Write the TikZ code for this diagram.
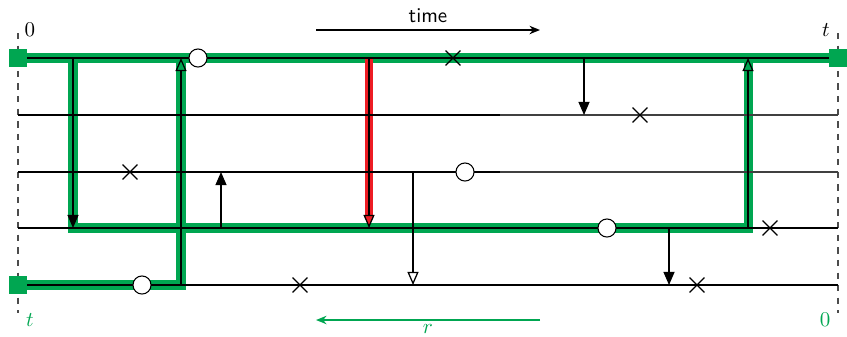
\documentclass[tikz,border=0pt]{standalone}
\usetikzlibrary{arrows.meta,shapes.misc,calc}
\definecolor{pgreen}{RGB}{0,166,81}
\definecolor{pred}{RGB}{237,28,36}
\begin{document}
\begin{tikzpicture}[x=0.476pt,y=-0.476pt,
  wline/.style={line width=0.6pt},
  gpath/.style={line width=4.3pt,pgreen,line cap=butt,line join=miter},
  rpath/.style={line width=3.4pt,pred},
  tipf/.style={-{Triangle[length=6.3pt,width=5.3pt]}},
  tipo/.style={-{Triangle[open,length=6.3pt,width=5.3pt,fill=white]}},
  tipg/.style={-{Triangle[length=6.3pt,width=5.3pt,fill=pgreen]}},
  tipr/.style={-{Triangle[length=6.3pt,width=5.3pt,fill=pred]}},
  circ/.style={circle,draw,fill=white,line width=0.5pt,minimum size=8.6pt,inner sep=0pt},
  crs/.style={cross out,draw,line width=0.6pt,minimum size=6.5pt,inner sep=0pt},
  sq/.style={rectangle,fill=pgreen,minimum size=8.6pt,inner sep=0pt},
  dsh/.style={dashed,line width=0.5pt,black!70}
]
\useasboundingbox (0,0) rectangle (847,336);
% lane end points
\foreach \i/\y in {1/58,2/115,3/172,4/228,5/285}{
  \coordinate (L\i) at (18,\y);
  \coordinate (R\i) at (838,\y);
}
\coordinate (M2) at (500,115);
\coordinate (M3) at (500,172);
% dashed borders
\coordinate (dl0) at (18,33); \coordinate (dl1) at (18,313);
\coordinate (dr0) at (838,33); \coordinate (dr1) at (838,313);
\draw[dsh] (dl0) -- (dl1);
\draw[dsh] (dr0) -- (dr1);
% green path
\coordinate (a1) at (73,58); \coordinate (a2) at (73,228);
\coordinate (b1) at (748,228); \coordinate (b2) at (748,58);
\coordinate (c1) at (181,285); \coordinate (c2) at (181,58);
\draw[gpath] (L1) -- (R1);
\draw[gpath] (a1) -- (a2) -- (b1) -- (b2);
\draw[gpath] (L5) -- (c1) -- (c2);
% red path
\coordinate (r1) at (369,58); \coordinate (r2) at (369,228);
\draw[rpath] (r1) -- ($(r2)+(0,-10)$);
% lanes
\draw[wline,black!75] (L2) -- (R2);
\draw[wline,black!75] (L3) -- (R3);
\draw[wline] (L2) -- (M2);
\draw[wline] (L3) -- (M3);
\draw[wline] (L1) -- (R1);
\draw[wline] (L4) -- (R4);
\draw[wline] (L5) -- (R5);
% arrows on green path
\draw[wline,tipf] (a1) -- (a2);
\draw[wline,tipg] (c1) -- (c2);
\draw[wline,tipg] (b1) -- (b2);
\draw[wline,tipr] (r1) -- (r2);
% black arrows
\coordinate (d1) at (584,58); \coordinate (d2) at (584,115);
\coordinate (e1) at (221,228); \coordinate (e2) at (221,172);
\coordinate (f1) at (413,172); \coordinate (f2) at (413,285);
\coordinate (g1) at (669,228); \coordinate (g2) at (669,285);
\draw[wline,tipf] (d1) -- (d2);
\draw[wline,tipf] (e1) -- (e2);
\draw[wline,tipo] (f1) -- (f2);
\draw[wline,tipf] (g1) -- (g2);
% circles
\node[circ] (o1) at (198,58) {};
\node[circ] (o2) at (465,172) {};
\node[circ] (o3) at (607,228) {};
\node[circ] (o4) at (142,285) {};
% crosses
\node[crs] (x1) at (453,58) {};
\node[crs] (x2) at (640,115) {};
\node[crs] (x3) at (130,172) {};
\node[crs] (x4) at (770,228) {};
\node[crs] (x5) at (300,285) {};
\node[crs] (x6) at (697,285) {};
% squares
\node[sq] (s1) at (L1) {};
\node[sq] (s2) at (R1) {};
\node[sq] (s3) at (L5) {};
% labels
\node (z0) at (30,30) {$0$};
\node (zt) at (826,30) {$t$};
\node[pgreen] (gt) at (30,320) {$t$};
\node[pgreen] (g0) at (825,320) {$0$};
% time arrow
\coordinate (t0) at (316,30); \coordinate (t1) at (540,30);
\draw[line width=0.9pt,-{Stealth[length=5pt,width=4pt]}] (t0) -- (t1);
\node[font=\sffamily] (tl) at (428,16) {time};
\coordinate (q0) at (540,320); \coordinate (q1) at (316,320);
\draw[line width=0.9pt,pgreen,-{Stealth[length=5pt,width=4pt]}] (q0) -- (q1);
\node[pgreen] (rl) at (428,329) {$r$};
\end{tikzpicture}
\end{document}
